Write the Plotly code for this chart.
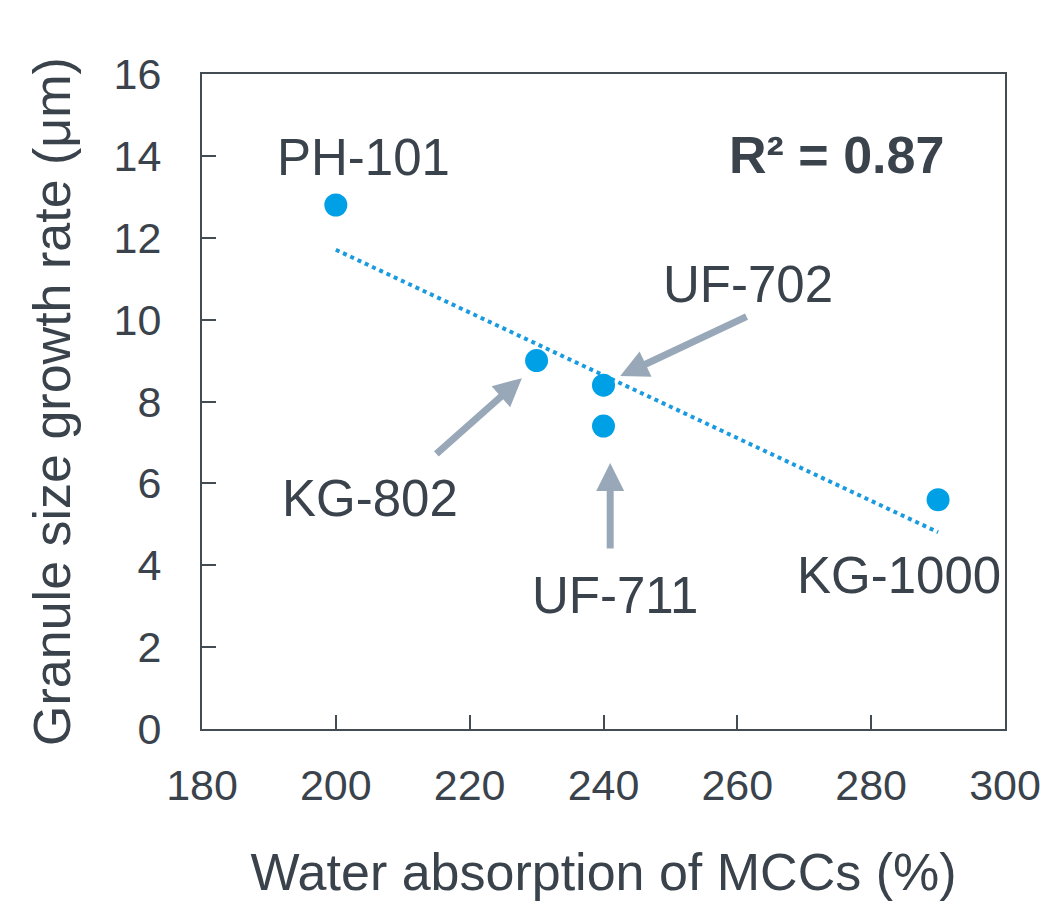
import numpy as np
import plotly.graph_objects as go

# Data
names = ["PH-101", "KG-802", "UF-702", "UF-711", "KG-1000"]
water_abs = [200, 230, 240, 240, 290]
growth = [12.8, 9.0, 8.4, 7.4, 5.6]

# Label positions (data coords)
label_x = [204.1, 205.1, 261.6, 241.7, 284.2]
label_y = [13.97, 5.64, 10.85, 3.27, 3.76]

# Arrows: (tip_x, tip_y, tail_x, tail_y) for KG-802, UF-702, UF-711
arrow_tip_x = [227.8, 242.5, 241.0]
arrow_tip_y = [8.57, 8.62, 6.50]
arrow_tail_x = [214.8, 261.6, 241.0]
arrow_tail_y = [6.69, 10.09, 4.37]

xt = [180, 200, 220, 240, 260, 280, 300]
yt = [0, 2, 4, 6, 8, 10, 12, 14, 16]

TXT = "#3a434c"
FONT = "Liberation Sans, Arial, sans-serif"

x = np.array(water_abs, dtype=float)
y = np.array(growth, dtype=float)
slope, icpt = np.polyfit(x, y, 1)
pred = slope * x + icpt
r2 = 1 - np.sum((y - pred) ** 2) / np.sum((y - y.mean()) ** 2)
xl = np.array([x.min(), x.max()])

fig = go.Figure()
fig.add_trace(go.Scatter(x=xl, y=slope * xl + icpt, mode="lines",
                         line=dict(color="#1a9be0", width=4, dash="dot"),
                         hoverinfo="skip", showlegend=False))
fig.add_trace(go.Scatter(x=water_abs, y=growth, mode="markers", text=names,
                         marker=dict(color="#00a0e6", size=23),
                         showlegend=False))

ann = []
for n, lx, ly in zip(names, label_x, label_y):
    ann.append(dict(x=lx, y=ly, xref="x", yref="y", text=n, showarrow=False,
                    font=dict(size=51, color=TXT, family=FONT)))
ann.append(dict(x=274.8, y=14.02, xref="x", yref="y", text="<b>R² = %.2f</b>" % r2,
                showarrow=False, font=dict(size=52, color=TXT, family=FONT)))
for tx, ty, sx, sy in zip(arrow_tip_x, arrow_tip_y, arrow_tail_x, arrow_tail_y):
    ann.append(dict(x=tx, y=ty, ax=sx, ay=sy, xref="x", yref="y", axref="x", ayref="y",
                    text="", showarrow=True, arrowhead=2, arrowsize=0.8,
                    arrowwidth=7, arrowcolor="#98a8b8"))

axis_common = dict(showline=True, linecolor="#434b53", linewidth=2, mirror=True,
                   ticks="inside", ticklen=14, tickwidth=2, tickcolor="#434b53",
                   showgrid=False, zeroline=False, automargin=False,
                   tickfont=dict(size=43, color=TXT, family=FONT))

fig.update_layout(
    width=1046, height=901,
    margin=dict(l=202, r=41, t=74, b=172, autoexpand=False),
    paper_bgcolor="white", plot_bgcolor="white",
    xaxis=dict(range=[180, 300], tickvals=xt, ticklabelstandoff=17,
               title=dict(text="Water absorption of MCCs (%)", standoff=58,
                          font=dict(size=52, color=TXT, family=FONT)),
               **axis_common),
    yaxis=dict(range=[0, 16], tickvals=yt, ticklabelstandoff=30,
               title=dict(text="Granule size growth rate (μm)", standoff=26,
                          font=dict(size=52, color=TXT, family=FONT)),
               **axis_common),
    annotations=ann,
)

fig.write_html("out.html")
